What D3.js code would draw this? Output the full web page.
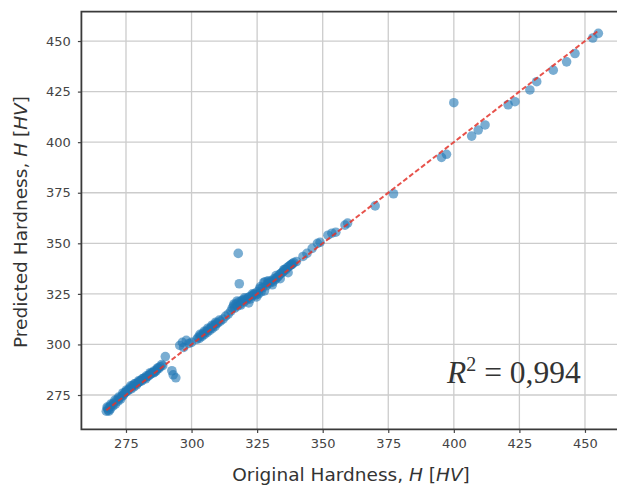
<!DOCTYPE html>
<html>
<head>
<meta charset="utf-8">
<script src="https://cdn.jsdelivr.net/npm/d3@7"></script>
<style>
  html, body { margin: 0; padding: 0; background: #fff; }
  svg { display: block; }
</style>
</head>
<body>
<svg id="chart" width="617" height="488"></svg>
<script>
// Original vs. predicted hardness values (HV)
const originalHardness = [
  267.5, 268, 268.2, 268.8, 269, 269.5, 270, 270.3, 271, 271.5, 272, 272.5, 273, 273.5,
  274, 274.5, 275, 275.5, 276, 276.5, 277, 277.5, 278, 278.5, 279, 279.5, 280, 280.5,
  281, 281.5, 282, 282.5, 283, 283.5, 284, 284.5, 285, 285.5, 286, 286.5, 287, 287.5,
  288, 289,
  267.8, 268.5, 269.2, 270.8, 272.2, 273.8, 275.2, 276.8, 278.2, 279.8, 281.2, 282.8,
  284.2, 285.8, 287.2, 288.6,
  290, 292.5, 294, 293,
  295.5, 296.5, 298, 297, 299, 300,
  302, 302.5, 303, 303.5, 304, 304.5, 305, 305.5, 306, 306.5, 307, 307.5, 308, 308.5,
  309, 309.5, 310, 311, 312, 313, 314,
  303.2, 304.8, 306.2, 307.8, 309.2, 310.6,
  315, 315.5, 316, 316.5, 317, 317.5, 318, 318.5, 319, 319.5, 320, 320.5, 321, 321.5,
  322, 322.5, 323, 323.5, 324, 324.5, 325, 325.5, 326, 326.5, 327, 327.5, 328, 328.5,
  329, 329.5, 330, 330.5, 331, 331.5, 332, 332.5, 333, 333.5, 334, 334.5, 335, 335.5,
  336, 336.5, 337, 337.5, 338, 338.5, 339, 340,
  316.2, 317.4, 318.8, 320.2, 321.8, 323.2, 324.8, 326.2, 327.8, 329.2, 330.8, 332.2,
  333.8, 335.2, 336.8, 338.2,
  317.8, 318.2,
  342.5, 344, 346, 348, 349, 352, 353.5, 355, 358.5, 359.5, 370, 377,
  395.3, 397.2, 400, 406.8, 409.3, 411.9, 420.7, 423.3, 429, 431.6, 437.9, 443, 446.2,
  453, 455.1
];
const predictedHardness = [
  267, 268.5, 267.5, 269, 268, 270, 269.5, 271, 270.5, 272.5, 272, 273.5, 273, 274.5,
  275, 276, 276.5, 277, 277.5, 278.5, 278, 279.5, 279, 280.5, 280, 281, 281.5, 282,
  282, 283, 283.5, 283, 284, 284.5, 285, 285.5, 286, 286, 286.5, 287, 288, 288,
  289, 289.5,
  269, 267, 270.5, 272.5, 274, 276, 277.5, 279.5, 280.5, 282, 283, 284.5,
  286, 287, 288.5, 290,
  294, 287, 283.5, 285,
  299.5, 301, 302, 298.5, 300.5, 301,
  302.5, 303.5, 303, 304.5, 304, 305.5, 305, 306.5, 306, 307.5, 307, 308.5, 308, 309.5,
  309, 310.5, 310.5, 311.5, 312.5, 314, 315,
  305, 306.5, 308, 309.5, 311, 312,
  316.5, 318, 319, 318, 320, 319, 321, 320, 321.5, 322, 321, 322.5, 322, 323,
  323.5, 322.5, 324, 324.5, 325, 324.5, 326, 325, 327.5, 326, 328, 330.5, 331, 329,
  330, 331, 330.5, 331.5, 331, 332.5, 332, 333, 333.5, 334.5, 335, 335.5, 336, 337,
  337, 338, 338.5, 339, 339.5, 340, 340.5, 341,
  320, 321.5, 319.5, 323, 320.5, 325, 323.5, 328.5, 326.5, 331.5, 329.5, 334, 332.5,
  337, 335.5, 339.5,
  345, 330,
  343.5, 345, 347.5, 350, 350.5, 354, 355, 355.5, 359, 360, 368.5, 374.5,
  392.5, 394, 419.5, 403, 406, 408.5, 418.5, 420, 425.8, 429.9, 435.6, 439.7, 443.8,
  451.5, 453.8
];
const tickValues = [275, 300, 325, 350, 375, 400, 425, 450];
const r2Label = "0,994";

const points = originalHardness.map((x, i) => ({ x, y: predictedHardness[i] }));

const svg = d3.select("#chart");
const width = 617, height = 488;
svg.append("rect").attr("width", width).attr("height", height).attr("fill", "#fff");

// Plot frame: the right part of the axes runs past the canvas edge
const plot = { left: 81.4, top: 11.7, right: 623, bottom: 429.4 };
const domain = [258, 464.5];

const x = d3.scaleLinear().domain(domain).range([plot.left, plot.right]);
const y = d3.scaleLinear().domain(domain).range([plot.bottom, plot.top]);

const font = "'DejaVu Sans', sans-serif";

// Grid
const grid = svg.append("g").attr("stroke", "#cccccc").attr("stroke-width", 1.3);
grid.selectAll("line.gx").data(tickValues).join("line")
  .attr("x1", d => x(d)).attr("x2", d => x(d))
  .attr("y1", plot.top).attr("y2", plot.bottom);
grid.selectAll("line.gy").data(tickValues).join("line")
  .attr("x1", plot.left).attr("x2", plot.right)
  .attr("y1", d => y(d)).attr("y2", d => y(d));

// Scatter points
svg.append("g").selectAll("circle").data(points).join("circle")
  .attr("cx", d => x(d.x)).attr("cy", d => y(d.y)).attr("r", 4.8)
  .attr("fill", "#1f77b4").attr("fill-opacity", 0.6);

// Identity reference line y = x across the data range
const lo = d3.min(originalHardness), hi = d3.max(originalHardness);
svg.append("line")
  .attr("x1", x(lo)).attr("y1", y(lo)).attr("x2", x(hi)).attr("y2", y(hi))
  .attr("stroke", "#e3342c").attr("stroke-width", 2)
  .attr("stroke-dasharray", "5,2.5").attr("stroke-opacity", 0.85);

// Axes
const xAxis = svg.append("g").attr("transform", `translate(0,${plot.bottom})`)
  .call(d3.axisBottom(x).tickValues(tickValues).tickSize(3.5).tickPadding(6).tickSizeOuter(0));
const yAxis = svg.append("g").attr("transform", `translate(${plot.left},0)`)
  .call(d3.axisLeft(y).tickValues(tickValues).tickSize(3.5).tickPadding(7).tickSizeOuter(0));
[xAxis, yAxis].forEach(g => {
  g.select(".domain").remove();
  g.selectAll(".tick line").attr("stroke", "#444").attr("stroke-width", 1.2);
  g.selectAll(".tick text").attr("fill", "#444").style("font-family", font).style("font-size", "13px");
});

// Spines: left, bottom, top
const spine = svg.append("g").attr("stroke", "#3a3a3a").attr("stroke-width", 1.8).attr("fill", "none");
spine.append("path").attr("d",
  `M${plot.right},${plot.top}H${plot.left}V${plot.bottom}H${plot.right}`);

// Axis titles
const xt = svg.append("text")
  .attr("x", 351).attr("y", 481)
  .attr("text-anchor", "middle").attr("fill", "#333")
  .style("font-family", font).style("font-size", "18.5px");
xt.append("tspan").text("Original Hardness, ");
xt.append("tspan").style("font-style", "italic").text("H");
xt.append("tspan").text(" [");
xt.append("tspan").style("font-style", "italic").text("HV");
xt.append("tspan").text("]");

const yt = svg.append("text")
  .attr("transform", `translate(27,222) rotate(-90)`)
  .attr("text-anchor", "middle").attr("fill", "#333")
  .style("font-family", font).style("font-size", "18.5px");
yt.append("tspan").text("Predicted Hardness, ");
yt.append("tspan").style("font-style", "italic").text("H");
yt.append("tspan").text(" [");
yt.append("tspan").style("font-style", "italic").text("HV");
yt.append("tspan").text("]");

// Coefficient of determination
const r2 = svg.append("text")
  .attr("x", 447).attr("y", 383).attr("fill", "#333")
  .style("font-family", "'Liberation Serif', 'DejaVu Serif', serif").style("font-size", "31.5px");
r2.append("tspan").style("font-style", "italic").text("R");
r2.append("tspan").attr("dy", -12).style("font-size", "20px").text("2");
r2.append("tspan").attr("dy", 12).text(" = " + r2Label);
</script>
</body>
</html>
